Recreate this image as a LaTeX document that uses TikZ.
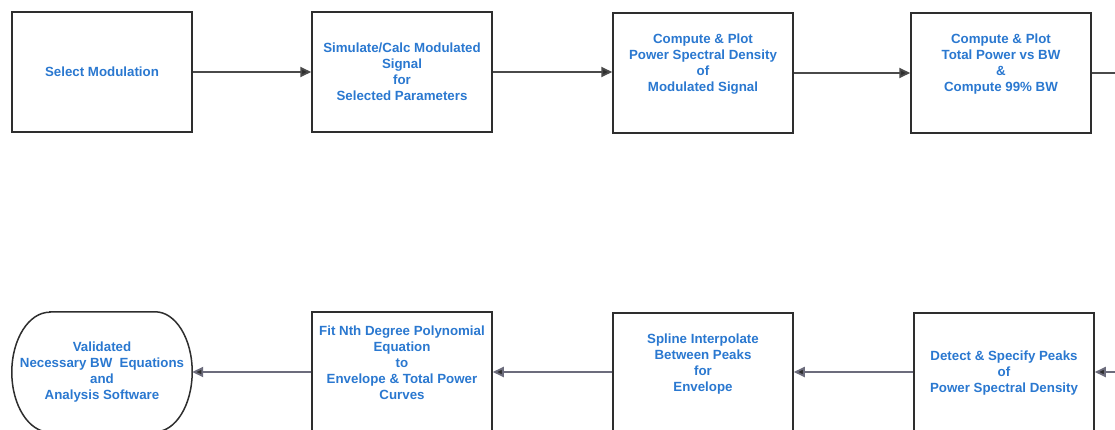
\documentclass[tikz,border=0pt]{standalone}
\usepackage{fontspec}
\setmainfont{Liberation Sans}
\usetikzlibrary{arrows.meta}
\definecolor{txtblue}{HTML}{2A78D0}
\definecolor{edge}{HTML}{2E2E2E}
\definecolor{flowtop}{HTML}{4A4A4A}
\definecolor{flowbot}{HTML}{6C6C7C}
\tikzset{
  stepbox/.style={draw=edge, line width=1.5pt, minimum width=180pt, minimum height=120pt, inner sep=0pt},
  txt/.style={text=txtblue, font=\fontsize{13.3pt}{16pt}\selectfont\bfseries, align=center, inner sep=0pt},
  flow/.style={line width=1.8pt, draw=flowtop, -{Triangle[length=11pt,width=10pt,fill=edge]}},
  flowb/.style={line width=1.8pt, draw=flowbot, -{Triangle[length=11pt,width=10pt,fill=edge]}}
}
\begin{document}
\begin{tikzpicture}[x=1pt,y=-1pt]
\useasboundingbox (0,0) rectangle (1115,430);
\clip (0,0) rectangle (1115,430);
\fill[white] (0,0) rectangle (1115,430);

% top row
\node[stepbox] (sel) at (102,72) {};
\node[txt] (selT) at (sel.center) {Select Modulation};
\node[stepbox] (sim) at (402,72) {};
\node[txt] (simT) at (sim.center) {Simulate/Calc Modulated\\Signal\\for\\Selected Parameters};
\node[stepbox] (psd) at (703,73) {};
\node[txt] (psdT) at ([yshift=9pt]psd.center) {Compute \& Plot\\Power Spectral Density\\of\\Modulated Signal};
\node[stepbox] (tot) at (1001,73) {};
\node[txt] (totT) at ([yshift=9pt]tot.center) {Compute \& Plot\\Total Power vs BW\\\&\\Compute 99\% BW};

% bottom row
\node[minimum width=180pt, minimum height=120pt, inner sep=0pt] (term) at (102,372) {};
\draw[edge, line width=1.5pt]
  ([xshift=38pt]term.north west) -- ([xshift=-37pt]term.north east)
  arc[start angle=90, end angle=-90, x radius=37pt, y radius=60pt]
  -- ([xshift=38pt]term.south west)
  arc[start angle=270, end angle=90, x radius=38pt, y radius=60pt] -- cycle;
\node[txt] (termT) at (term.center) {Validated\\Necessary BW\ \ Equations\\and\\Analysis Software};
\node[stepbox] (fit) at (402,372) {};
\node[txt] (fitT) at ([yshift=9pt]fit.center) {Fit Nth Degree Polynomial\\Equation\\to\\Envelope \& Total Power\\Curves};
\node[stepbox] (spl) at (703,373) {};
\node[txt] (splT) at ([yshift=9pt]spl.center) {Spline Interpolate\\Between Peaks\\for\\Envelope};
\node[stepbox] (det) at (1004,373) {};
\node[txt] (detT) at (det.center) {Detect \& Specify Peaks\\of\\Power Spectral Density};

% connectors
\coordinate (outR) at (1125,73);
\coordinate (inR) at (1125,372);
\draw[flow] (sel.east) -- (sim.west);
\draw[flow] (sim.east) -- (psd.west |- sim.east);
\draw[flow] (psd.east) -- (tot.west);
\draw[line width=1.8pt, draw=flowtop] (tot.east) -- (outR);
\draw[flowb] (inR) -- (det.east |- inR);
\draw[flowb] (det.west |- inR) -- (spl.east |- inR);
\draw[flowb] (spl.west |- inR) -- (fit.east |- inR);
\draw[flowb] (fit.west |- inR) -- (term.east);
\end{tikzpicture}
\end{document}
